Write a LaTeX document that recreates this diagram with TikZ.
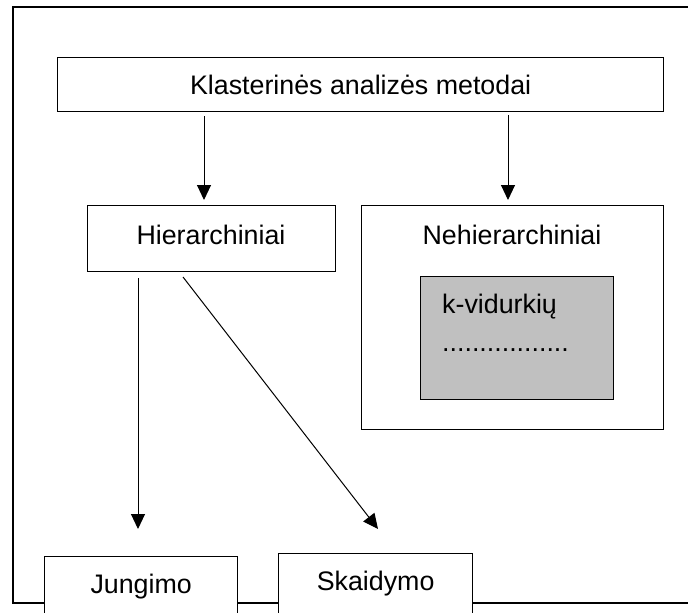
\documentclass[tikz,border=0pt]{standalone}
\usepackage{fontspec}
\setmainfont{Liberation Sans}
\usetikzlibrary{arrows.meta}
\definecolor{boxgray}{RGB}{192,192,192}
\begin{document}
\begin{tikzpicture}[x=1pt,y=-1pt,
  every node/.style={font=\fontsize{26.8}{32}\selectfont},
  box/.style={draw, line width=1.3pt, fill=white, inner sep=0pt, anchor=north west},
  plain/.style={inner sep=0pt},
  arr/.style={line width=1pt, -{Triangle[length=15pt,width=14pt]}}]
\useasboundingbox (0,0) rectangle (688,613);
\clip (0,0) rectangle (688,613);
% outer frame (open to the right)
\draw[line width=2pt] (700,7) -- (13,7) -- (13,603) -- (700,603);
% top box
\node[box, minimum width=606pt, minimum height=54pt] (top) at (57,57) {Klasterinės analizės metodai};
% hierarchical
\node[box, minimum width=248pt, minimum height=66pt] (hier) at (87,205) {};
\node[plain] (hierlbl) at (211,235) {Hierarchiniai};
% non-hierarchical
\node[box, minimum width=302pt, minimum height=224pt] (nehier) at (361,205) {};
\node[plain] (nehierlbl) at (512,235) {Nehierarchiniai};
\node[draw, line width=1pt, fill=boxgray, inner sep=0pt, anchor=north west,
      minimum width=193pt, minimum height=123pt] (kvid) at (420,276) {};
\node[plain, anchor=base west] (kvidlbl) at (442,313) {k-vidurkių};
\node[plain, anchor=base west] (kdots) at (442,351) {.................};
% bottom boxes
\node[box, minimum width=193pt, minimum height=60pt] (jung) at (44,556) {Jungimo};
\node[box, minimum width=194pt, minimum height=60pt] (skaid) at (278,553) {Skaidymo};
% arrows
\coordinate (xa) at (204,0);
\coordinate (xb) at (508,0);
\coordinate (xc) at (138,0);
\coordinate (dstart) at (183,277);
\coordinate (dend) at (378,529);
\draw[arr, shorten <=4pt, shorten >=5pt] (top.south -| xa) -- (hier.north -| xa);
\draw[arr, shorten <=3pt, shorten >=5pt] (top.south -| xb) -- (nehier.north -| xb);
\draw[arr, shorten <=6pt, shorten >=27pt] (hier.south -| xc) -- (jung.north -| xc);
\draw[arr] (dstart) -- (dend);
\end{tikzpicture}
\end{document}
